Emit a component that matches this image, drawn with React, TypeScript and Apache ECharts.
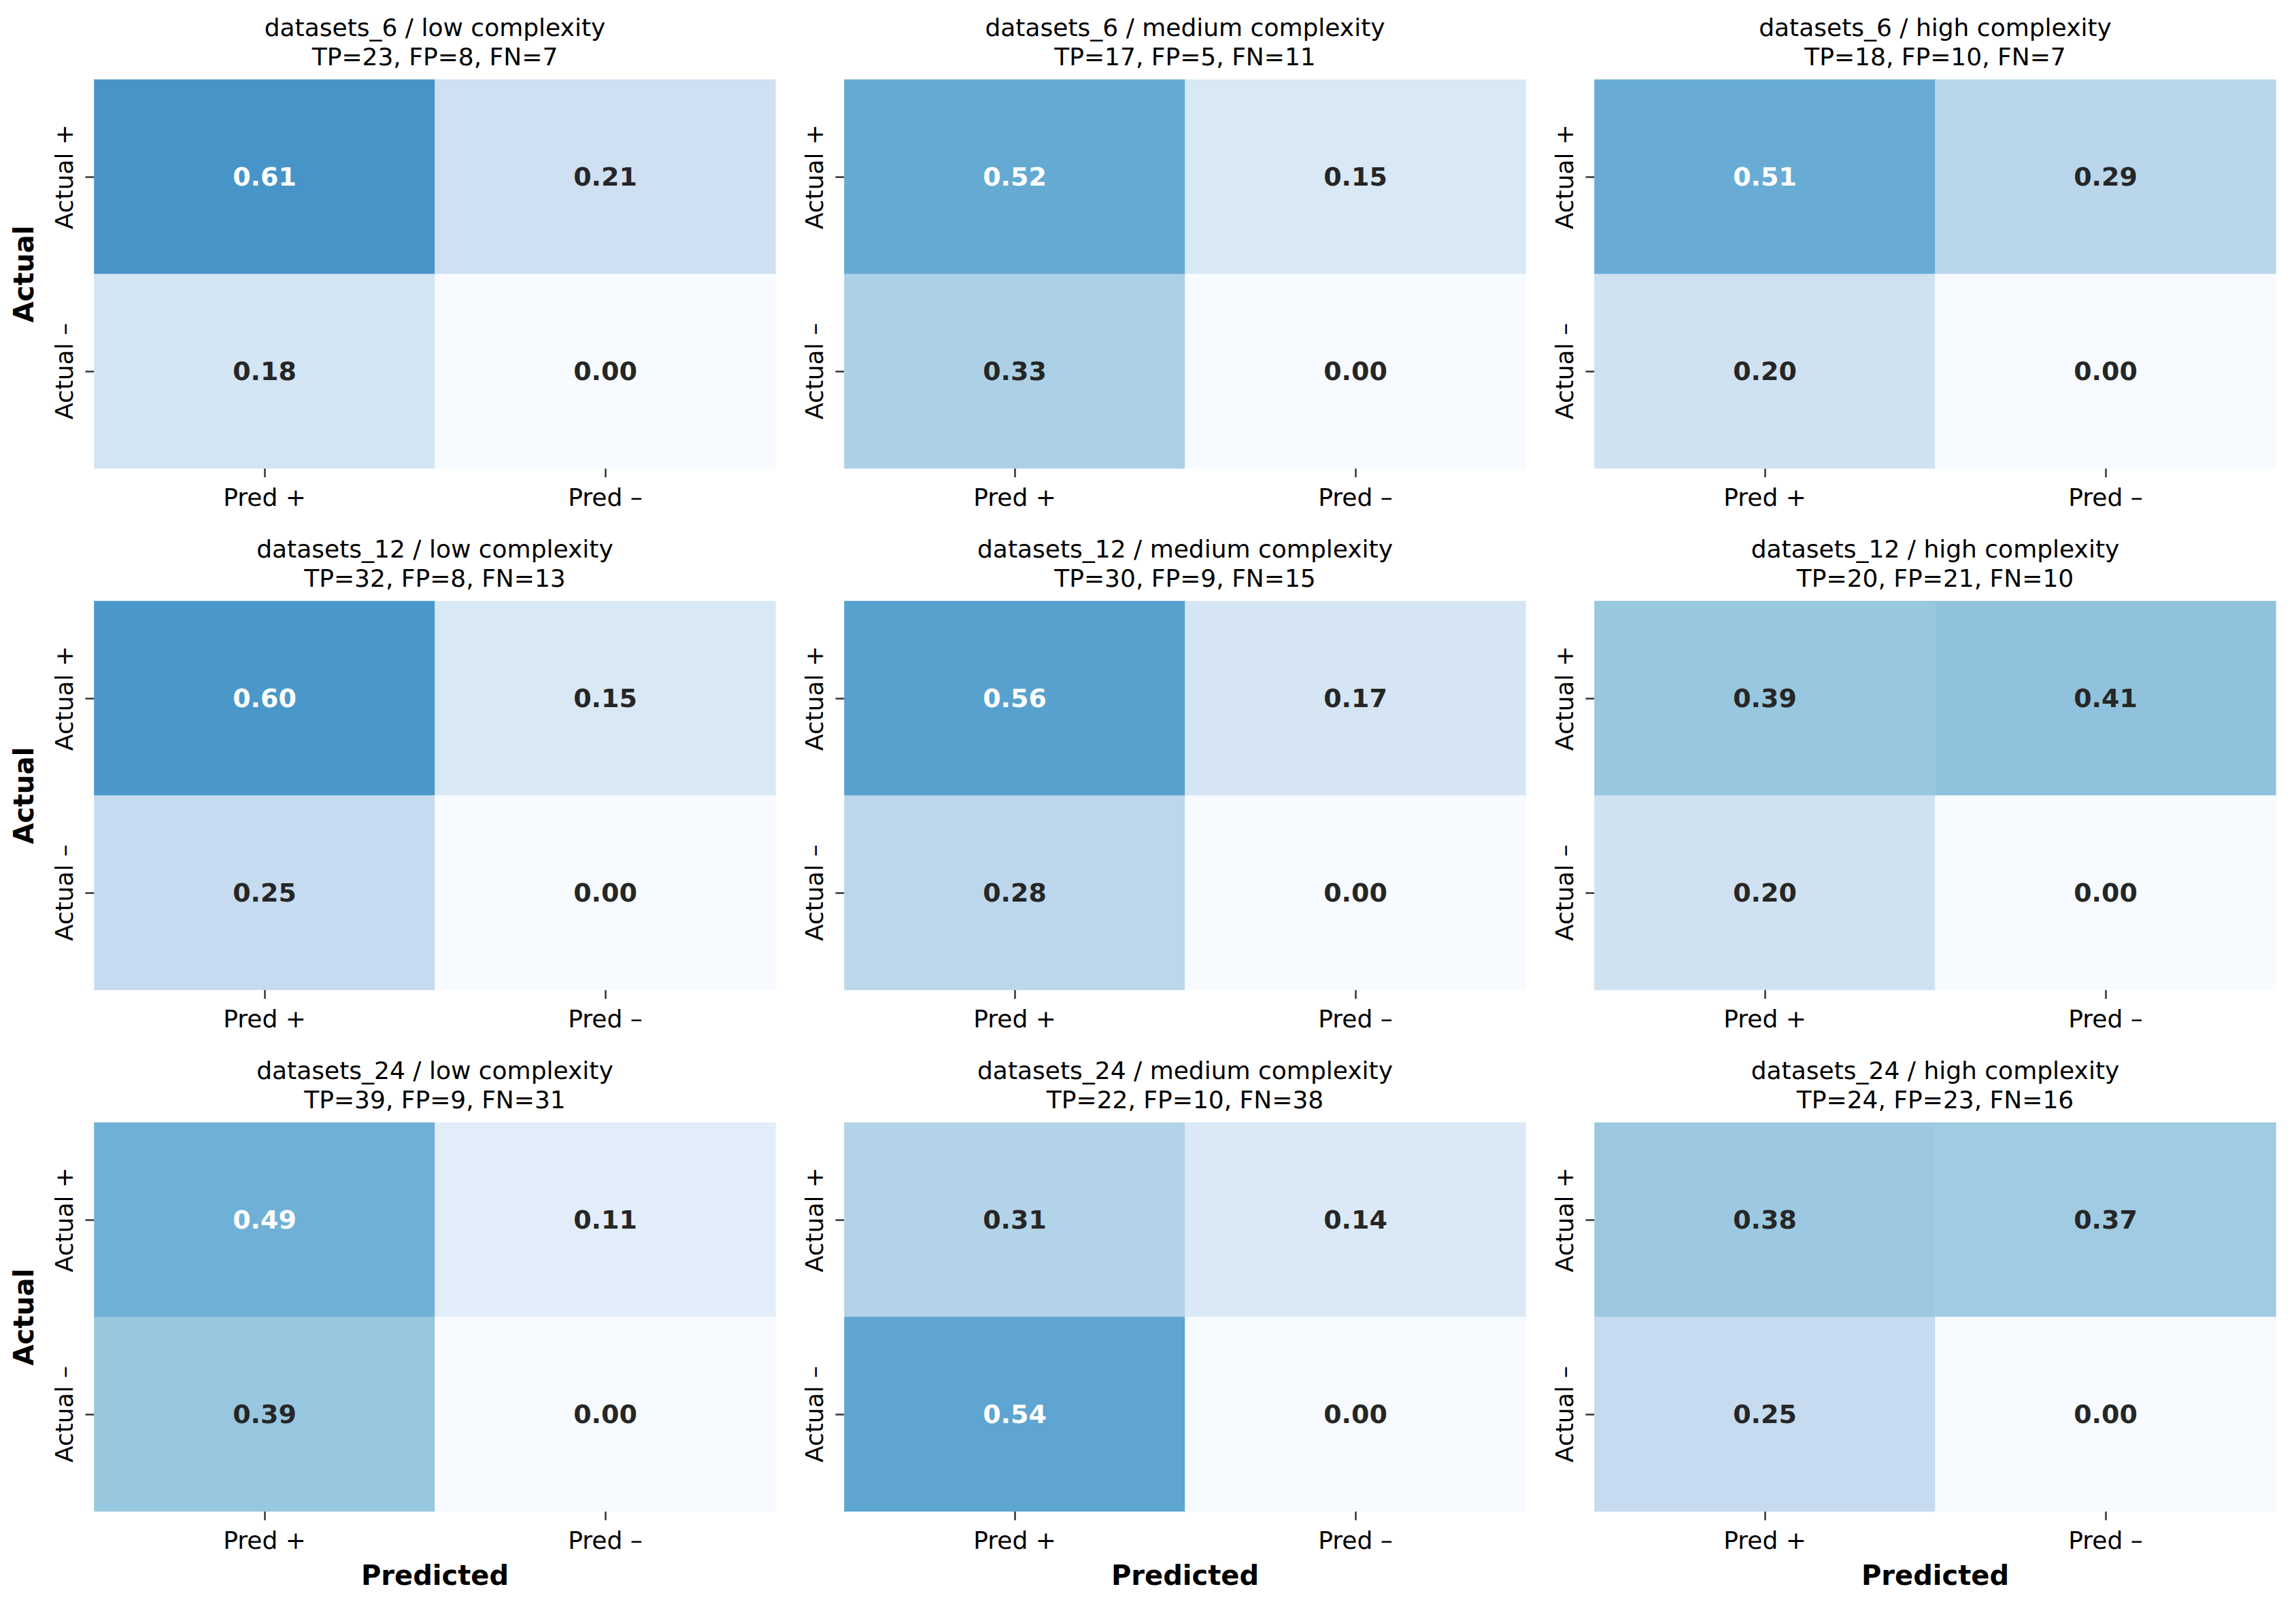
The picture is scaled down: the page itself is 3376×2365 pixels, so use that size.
import React, { useEffect, useRef } from "react";
import * as echarts from "echarts";

// ---- data ----
const datasets = ["datasets_6", "datasets_12", "datasets_24"];
const complexities = ["low complexity", "medium complexity", "high complexity"];
const predLabels = ["Pred +", "Pred –"];
const actualLabels = ["Actual +", "Actual –"];

// counts shown in the subplot titles [dataset][complexity]
const tpCounts = [[23, 17, 18], [32, 30, 20], [39, 22, 24]];
const fpCounts = [[8, 5, 10], [8, 9, 21], [9, 10, 23]];
const fnCounts = [[7, 11, 7], [13, 15, 10], [31, 38, 16]];

// cell values per panel: [Actual+/Pred+, Actual+/Pred-, Actual-/Pred+, Actual-/Pred-]
const cells6 = [
  [0.61, 0.21, 0.18, 0.0],
  [0.52, 0.15, 0.33, 0.0],
  [0.51, 0.29, 0.2, 0.0],
];
const cells12 = [
  [0.6, 0.15, 0.25, 0.0],
  [0.56, 0.17, 0.28, 0.0],
  [0.39, 0.41, 0.2, 0.0],
];
const cells24 = [
  [0.49, 0.11, 0.39, 0.0],
  [0.31, 0.14, 0.54, 0.0],
  [0.38, 0.37, 0.25, 0.0],
];
const cellValues = [cells6, cells12, cells24];

// matplotlib "Blues"
const BLUES = ["#f7fbff", "#deebf7", "#c6dbef", "#9ecae1", "#6baed6", "#4292c6", "#2171b5", "#08519c", "#08306b"];

const FONT = "DejaVu Sans";
const LEFT0 = 138.5;
const COL_STEP = 1103;
const TOP0 = 117;
const ROW_STEP = 767;
const GRID_W = 1002;
const GRID_H = 572;

export default function App() {
  const ref = useRef<HTMLDivElement>(null);

  useEffect(() => {
    if (!ref.current) return;
    const chart = echarts.init(ref.current, null, { renderer: "svg" });

    const grids: any[] = [];
    const xAxes: any[] = [];
    const yAxes: any[] = [];
    const series: any[] = [];
    const titles: any[] = [];

    for (let r = 0; r < 3; r++) {
      for (let c = 0; c < 3; c++) {
        const idx = r * 3 + c;
        const left = LEFT0 + c * COL_STEP;
        const top = TOP0 + r * ROW_STEP;
        grids.push({ left, top, width: GRID_W, height: GRID_H, containLabel: false });
        titles.push({
          text: `${datasets[r]} / ${complexities[c]}\nTP=${tpCounts[r][c]}, FP=${fpCounts[r][c]}, FN=${fnCounts[r][c]}`,
          left: left + GRID_W / 2,
          top: top - 98.5,
          textAlign: "center",
          padding: 0,
          textStyle: {
            fontFamily: FONT,
            fontSize: 36,
            fontWeight: "normal",
            color: "#000",
            lineHeight: 43,
          },
        });
        xAxes.push({
          type: "category",
          gridIndex: idx,
          data: predLabels,
          position: "bottom",
          axisLine: { show: false },
          axisTick: { show: true, alignWithLabel: true, length: 13, lineStyle: { color: "#333", width: 2.5 } },
          axisLabel: { fontFamily: FONT, fontSize: 36, color: "#000", margin: 24 },
          splitLine: { show: false },
          name: r === 2 ? "Predicted" : "",
          nameLocation: "middle",
          nameGap: 74,
          nameTextStyle: { fontFamily: FONT, fontSize: 40, fontWeight: "bold", color: "#000" },
        });
        yAxes.push({
          type: "category",
          gridIndex: idx,
          data: actualLabels,
          inverse: true,
          axisLine: { show: false },
          axisTick: { show: true, alignWithLabel: true, length: 13, lineStyle: { color: "#333", width: 2.5 } },
          axisLabel: { fontFamily: FONT, fontSize: 36, color: "#000", margin: 26, rotate: 90 },
          splitLine: { show: false },
          name: c === 0 ? "Actual" : "",
          nameLocation: "middle",
          nameGap: 84,
          nameRotate: 90,
          nameTextStyle: { fontFamily: FONT, fontSize: 40, fontWeight: "bold", color: "#000" },
        });
        const vals = cellValues[r][c];
        const data = vals.map((v, k) => {
          const xi = k % 2;
          const yi = Math.floor(k / 2);
          return {
            value: [xi, yi, v],
            label: { color: v > 0.45 ? "#ffffff" : "#262626" },
          };
        });
        series.push({
          type: "heatmap",
          xAxisIndex: idx,
          yAxisIndex: idx,
          data,
          itemStyle: { borderWidth: 0 },
          emphasis: { disabled: true },
          label: {
            show: true,
            fontFamily: FONT,
            fontSize: 38,
            fontWeight: "bold",
            formatter: (p: any) => Number(p.value[2]).toFixed(2),
          },
        });
      }
    }

    chart.setOption({
      animation: false,
      backgroundColor: "#ffffff",
      title: titles,
      grid: grids,
      xAxis: xAxes,
      yAxis: yAxes,
      visualMap: {
        type: "continuous",
        min: 0,
        max: 1,
        show: false,
        seriesIndex: series.map((_, i) => i),
        inRange: { color: BLUES },
      },
      series,
    });

    return () => chart.dispose();
  }, []);

  return (
    <div
      ref={ref}
      style={{ position: "absolute", left: 0, top: 0, width: 3376, height: 2365 }}
    />
  );
}
